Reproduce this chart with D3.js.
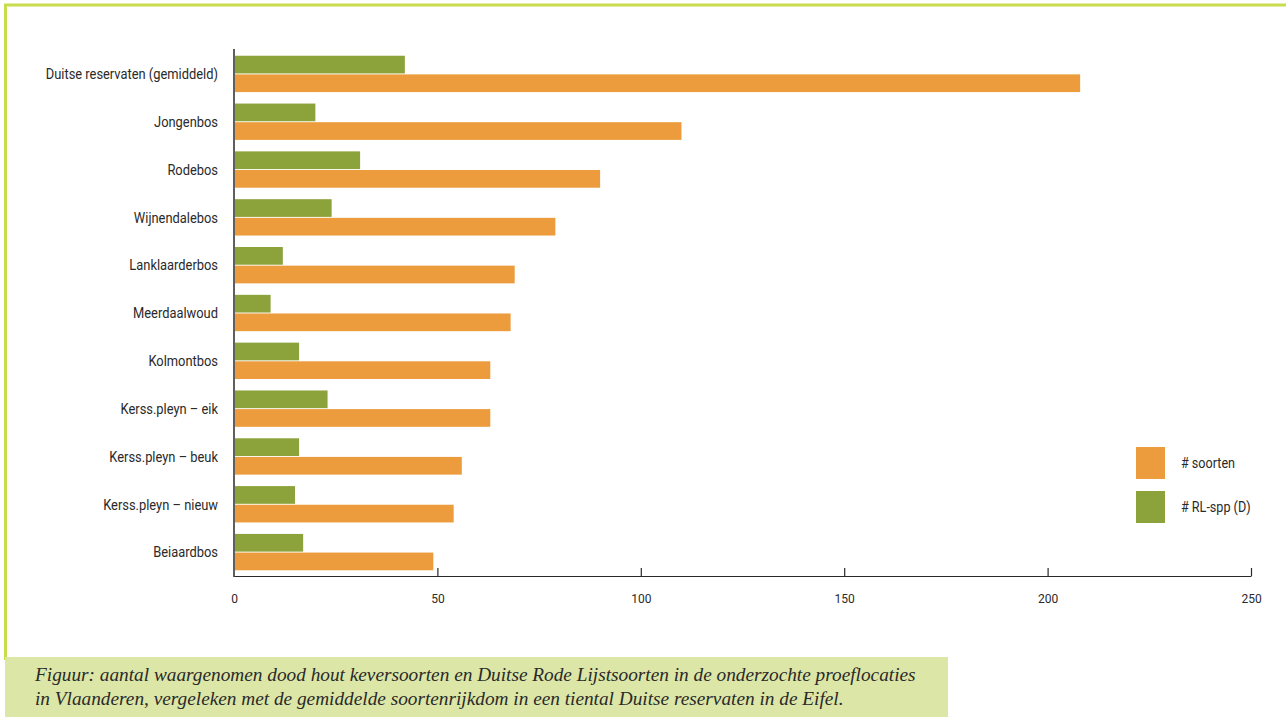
<!DOCTYPE html>
<html>
<head>
<meta charset="utf-8">
<script src="https://cdn.jsdelivr.net/npm/d3@7"></script>
<style>
  body { margin: 0; background: #fff; }
  svg { display: block; }
  .cat-label { font-family: "Roboto", sans-serif; font-size: 15px; fill: #2a2a2a; }
  .tick-label { font-family: "Roboto", sans-serif; font-size: 12px; fill: #2a2a2a; }
  .legend-label { font-family: "Roboto", sans-serif; font-size: 14px; fill: #2a2a2a; }
  .caption { font-family: "Liberation Serif", "DejaVu Serif", serif; font-style: italic; font-size: 19.3px; fill: #2a2a2a; }
</style>
</head>
<body>
<div id="chart"></div>
<script>
const categories = [
  "Duitse reservaten (gemiddeld)", "Jongenbos", "Rodebos", "Wijnendalebos",
  "Lanklaarderbos", "Meerdaalwoud", "Kolmontbos", "Kerss.pleyn – eik",
  "Kerss.pleyn – beuk", "Kerss.pleyn – nieuw", "Beiaardbos"
];
const rlValues = [42, 20, 31, 24, 12, 9, 16, 23, 16, 15, 17];
const soortenValues = [208, 110, 90, 79, 69, 68, 63, 63, 56, 54, 49];
const xTicks = [0, 50, 100, 150, 200, 250];
const captionLines = [
  "Figuur: aantal waargenomen dood hout keversoorten en Duitse Rode Lijstsoorten in de onderzochte proeflocaties",
  "in Vlaanderen, vergeleken met de gemiddelde soortenrijkdom in een tiental Duitse reservaten in de Eifel."
];

const series = [
  { key: "rl", label: "# RL-spp (D)", color: "#8ca23a", values: rlValues },
  { key: "soorten", label: "# soorten", color: "#ec9c3c", values: soortenValues }
];

const W = 1286, H = 717;
const svg = d3.select("#chart").append("svg").attr("width", W).attr("height", H);

// frame
const frameColor = "#c9dc4c";
svg.append("line").attr("x1", 4).attr("x2", W).attr("y1", 5).attr("y2", 5)
  .attr("stroke", frameColor).attr("stroke-width", 3);
svg.append("line").attr("x1", 5.5).attr("x2", 5.5).attr("y1", 4).attr("y2", 660)
  .attr("stroke", frameColor).attr("stroke-width", 3);

const x = d3.scaleLinear().domain([0, 250]).range([234, 1251]);
const y = d3.scaleBand().domain(categories).range([50, 576]).paddingInner(0.24).paddingOuter(0.12);
const yInner = d3.scaleBand().domain(series.map(s => s.key)).range([0, y.bandwidth()]).paddingInner(0.05);

const rows = categories.map((c, i) => ({ cat: c, i }));

series.forEach(s => {
  svg.append("g").selectAll("rect")
    .data(rows)
    .enter()
    .append("rect")
    .attr("x", x(0) + 1)
    .attr("y", d => y(d.cat) + yInner(s.key))
    .attr("width", d => x(s.values[d.i]) - x(0) - 1)
    .attr("height", yInner.bandwidth())
    .attr("fill", s.color);
});

// y axis line
svg.append("line").attr("x1", 234).attr("x2", 234).attr("y1", 49).attr("y2", 577)
  .attr("stroke", "#2a2a2a").attr("stroke-width", 1.5);

// x axis
const xAxis = d3.axisBottom(x).tickValues(xTicks).tickSize(0).tickSizeOuter(0).tickPadding(18);
const xg = svg.append("g").attr("transform", "translate(0,576)").call(xAxis);
xg.select(".domain").attr("stroke", "#2a2a2a").attr("stroke-width", 1.2);
xg.selectAll(".tick text").attr("class", "tick-label").attr("fill", null).style("font-size", null).style("font-family", null);
xg.selectAll(".tick").filter(d => d > 0).append("line")
  .attr("y1", 0).attr("y2", -8).attr("stroke", "#2a2a2a").attr("stroke-width", 1.2);

// category labels (condensed look)
svg.append("g").selectAll("text")
  .data(categories)
  .enter()
  .append("text")
  .attr("class", "cat-label")
  .attr("transform", d => `translate(218,${y(d) + y.bandwidth() / 2}) scale(0.86,1)`)
  .attr("dy", "0.35em")
  .attr("text-anchor", "end")
  .text(d => d);

// legend
const legendItems = [series[1], series[0]];
const lg = svg.append("g").selectAll("g")
  .data(legendItems)
  .enter()
  .append("g")
  .attr("transform", (d, i) => `translate(1136,${447 + i * 44})`);
lg.append("rect").attr("width", 29).attr("height", 32).attr("fill", d => d.color);
lg.append("text").attr("class", "legend-label").attr("transform", "translate(45,16) scale(0.9,1)")
  .attr("dy", "0.35em").text(d => d.label);

// caption
svg.append("rect").attr("x", 5).attr("y", 657).attr("width", 943).attr("height", 60).attr("fill", "#dce6a6");
svg.append("g").selectAll("text")
  .data(captionLines)
  .enter()
  .append("text")
  .attr("class", "caption")
  .attr("x", 35)
  .attr("y", (d, i) => 681 + i * 24)
  .text(d => d);
</script>
</body>
</html>
